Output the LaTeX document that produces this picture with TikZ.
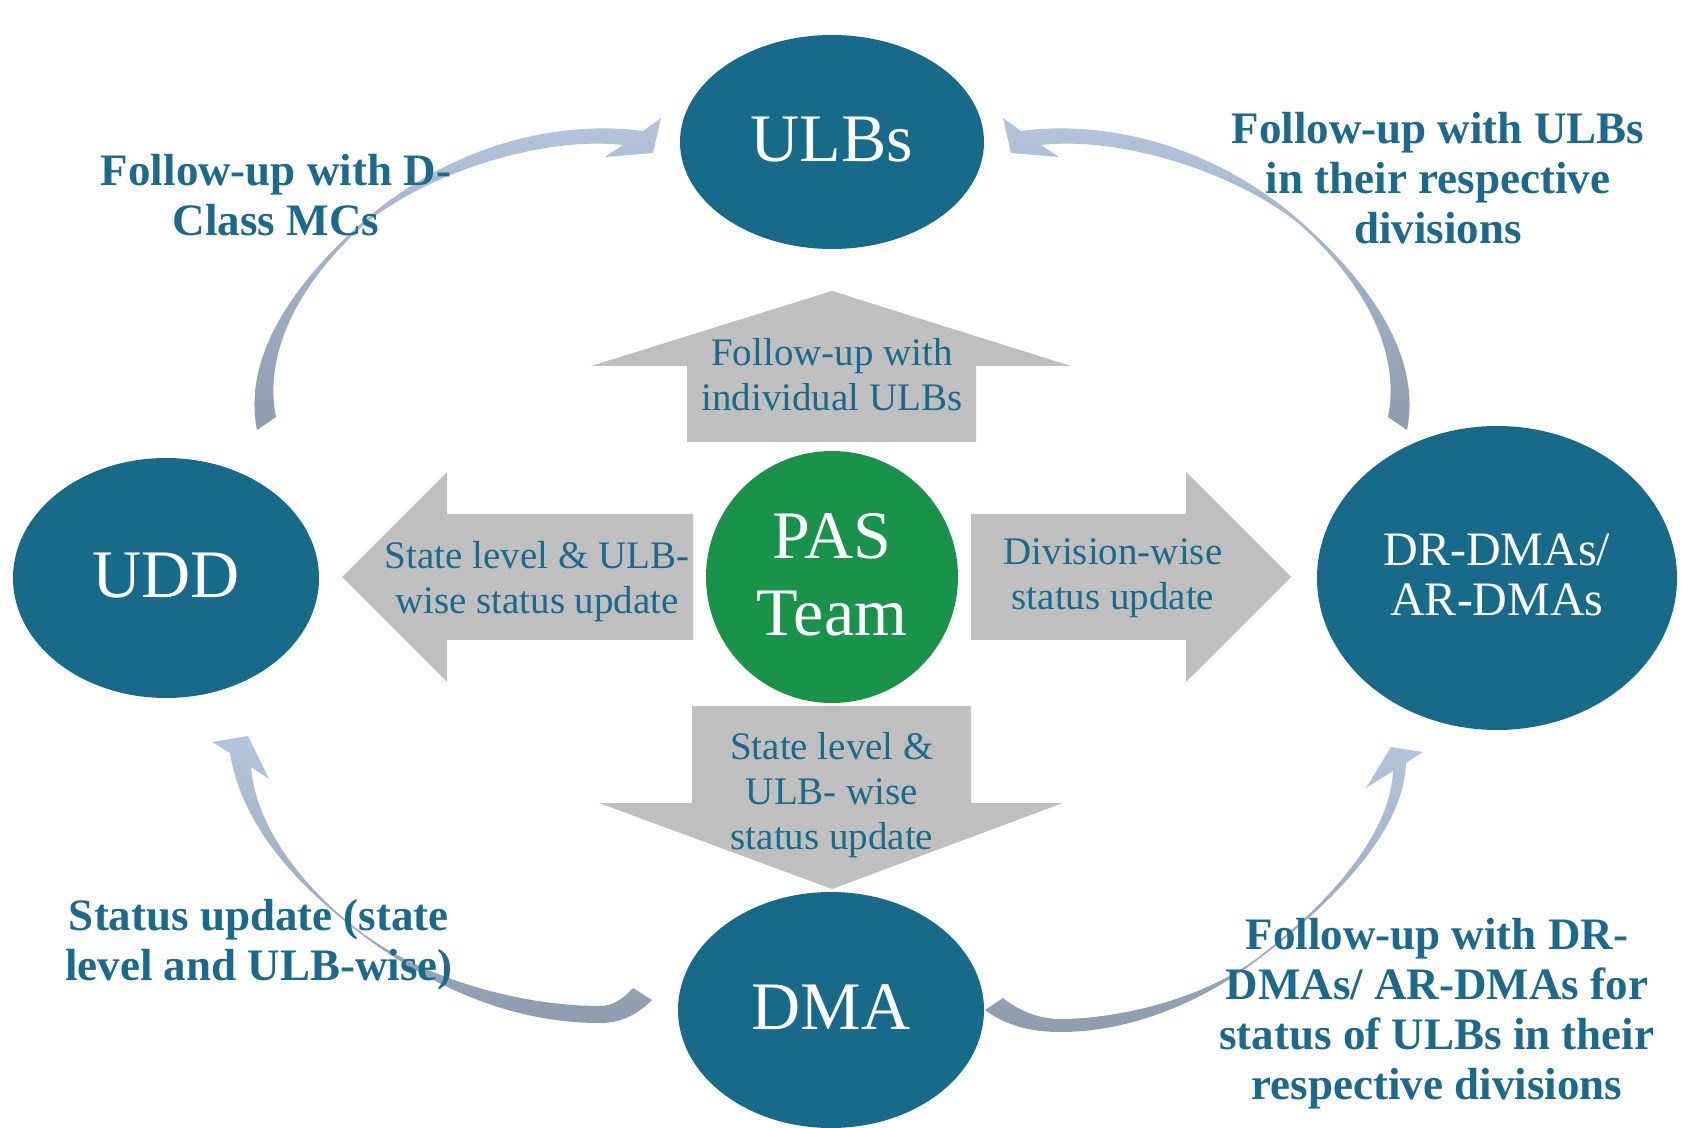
\documentclass[tikz,border=0pt]{standalone}
\usepackage{fontspec}
\setmainfont{Liberation Serif}
\usetikzlibrary{shapes.geometric}
\definecolor{nodeblue}{HTML}{186A8B}
\definecolor{pasgreen}{HTML}{19924A}
\definecolor{arrowgray}{HTML}{BFBFBF}
\definecolor{labelblue}{HTML}{1B6A8C}
\definecolor{curvelight}{HTML}{B3C5DC}
\definecolor{curvedark}{HTML}{8E9CAE}

\begin{document}
\begin{tikzpicture}[x=0.5pt, y=-0.5pt,
  bubble/.style={ellipse, fill=nodeblue, text=white, inner sep=0pt, text depth=3pt,
    font=\fontsize{34}{38.5}\selectfont, align=center},
  hub/.style={circle, fill=pasgreen, text=white, inner sep=0pt, minimum size=126pt,
    text depth=3pt, font=\fontsize{34}{38.5}\selectfont, align=center},
  blockarrow/.style={fill=arrowgray},
  arrowtext/.style={text=labelblue, inner sep=0pt, align=center,
    font=\fontsize{19.5}{22.5}\selectfont},
  looplabel/.style={text=labelblue, inner sep=0pt, align=center,
    font=\fontsize{22.5}{25}\selectfont\bfseries},
  loopband/.style={top color=curvelight, bottom color=curvedark},
]
\useasboundingbox (0,0) rectangle (1683,1128);
\fill[white] (0,0) rectangle (1683,1128);

% ---- tapered curved arrows around the outside ----
% UDD -> ULBs
\shade[loopband] (257,430) .. controls (241,350) and (304,274) .. (364,221)
  .. controls (439,155) and (543,118) .. (643,131)
  -- (661,118) -- (653,153) -- (605,157) -- (623,145)
  .. controls (543,136) and (430,172) .. (366,223)
  .. controls (306,276) and (262,347) .. (276,417) -- cycle;
% DR-DMAs/AR-DMAs -> ULBs
\shade[loopband] (1407,430) .. controls (1423,350) and (1360,274) .. (1300,221)
  .. controls (1225,155) and (1121,118) .. (1021,131)
  -- (1003,118) -- (1011,153) -- (1059,157) -- (1041,145)
  .. controls (1121,136) and (1234,172) .. (1298,223)
  .. controls (1358,276) and (1402,347) .. (1388,417) -- cycle;
% DMA -> UDD
\shade[loopband] (652,1000) .. controls (635,1017) and (618,1023) .. (600,1023)
  .. controls (510,1023) and (429,986) .. (357,931)
  .. controls (298,885) and (242,827) .. (230,753)
  -- (212,742) -- (248,736) -- (269,779) -- (251,767)
  .. controls (256,827) and (302,886) .. (357,929)
  .. controls (420,978) and (520,1006) .. (600,1006)
  .. controls (612,1006) and (622,1000) .. (633,988) -- cycle;
% DMA -> DR-DMAs/AR-DMAs
\shade[loopband] (985,1010) .. controls (1005,1025) and (1030,1032) .. (1060,1032)
  .. controls (1130,1032) and (1200,1003) .. (1256,961)
  .. controls (1324,910) and (1404,835) .. (1406,763)
  -- (1423,752) -- (1391,747) -- (1366,788) -- (1393,771)
  .. controls (1390,841) and (1316,914) .. (1256,959)
  .. controls (1204,998) and (1120,1019) .. (1060,1019)
  .. controls (1038,1019) and (1018,1010) .. (1003,998) -- cycle;

% ---- block arrows leaving the PAS team ----
\fill[blockarrow] (687,442) -- (687,366) -- (591,366) -- (832,291) -- (1071,366) -- (976,366) -- (976,442) -- cycle;
\fill[blockarrow] (693,514) -- (447,514) -- (447,472) -- (342,577) -- (447,682) -- (447,640) -- (693,640) -- cycle;
\fill[blockarrow] (971,514) -- (1186,514) -- (1186,472) -- (1291,577) -- (1186,682) -- (1186,640) -- (971,640) -- cycle;
\fill[blockarrow] (692,706) -- (971,706) -- (971,803) -- (1063,803) -- (832,889) -- (599,803) -- (692,803) -- cycle;

\node[arrowtext] (tup) at (832,375) {Follow-up with\\individual ULBs};
\node[arrowtext] (tleft) at (537,582) {State level \& ULB-\\wise status update};
\node[arrowtext] (tright) at (1113,578) {Division-wise\\status update};
\node[arrowtext] (tdown) at (832,795) {State level \&\\ULB- wise\\status update};

% ---- the five actors ----
\node[hub] (pas) at (832,577) {PAS\\Team};
\node[bubble, minimum width=152pt, minimum height=107pt] (ulbs) at (832,142) {ULBs};
\node[bubble, minimum width=153pt, minimum height=120pt] (udd) at (166,578) {UDD};
\node[bubble, minimum width=180pt, minimum height=152pt, font=\fontsize{24}{25}\selectfont] (drdma) at (1497,578) {DR-DMAs/\\AR-DMAs};
\node[bubble, minimum width=153pt, minimum height=118pt] (dma) at (831,1010) {DMA};

% ---- labels of the curved arrows ----
\node[looplabel] (ltl) at (276,195) {Follow-up with D-\\Class MCs};
\node[looplabel] (ltr) at (1438,178) {Follow-up with ULBs\\in their respective\\divisions};
\node[looplabel] (lbl) at (259,945) {Status update (state\\level and ULB-wise)};
\node[looplabel] (lbr) at (1437,1014) {Follow-up with DR-\\DMAs/ AR-DMAs for\\status of ULBs in their\\respective divisions};
\end{tikzpicture}
\end{document}
